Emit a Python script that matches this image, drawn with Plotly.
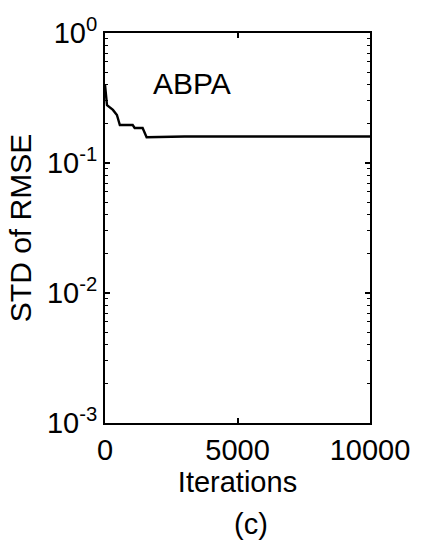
import plotly.graph_objects as go

iterations = [0, 75, 300, 450, 560, 1045, 1120, 1420, 1570, 3000, 10000]
std_rmse = [0.40, 0.279, 0.256, 0.234, 0.196, 0.196, 0.186, 0.186, 0.158, 0.160, 0.160]

y_tickvals = [1e-3, 1e-2, 1e-1, 1e0]
y_ticktext = ["10<sup>-3</sup>", "10<sup>-2</sup>", "10<sup>-1</sup>", "10<sup>0</sup>"]
x_tickvals = [0, 5000, 10000]
x_ticktext = ["0", "5000", "10000"]

minor_vals = [m * d for d in y_tickvals[:-1] for m in range(2, 10)]

FONT = "Liberation Sans, Arial, sans-serif"

fig = go.Figure()
fig.add_trace(go.Scatter(x=iterations, y=std_rmse, mode="lines",
                         line=dict(color="black", width=2.4), showlegend=False))

fig.update_layout(
    width=422, height=546,
    margin=dict(l=105, r=49, t=33, b=123),
    paper_bgcolor="white", plot_bgcolor="white",
    font=dict(family=FONT, size=29, color="black"),
    xaxis=dict(range=[0, 10000], tickvals=x_tickvals, ticktext=x_ticktext,
               showline=True, linecolor="black", linewidth=2, mirror="ticks",
               ticks="inside", ticklen=5, tickwidth=1.5, tickcolor="black",
               showgrid=False, zeroline=False,
               title=dict(text="Iterations", standoff=4, font=dict(size=29)),
               tickfont=dict(size=29)),
    yaxis=dict(type="log", range=[-3, 0], tickvals=y_tickvals, ticktext=y_ticktext,
               showline=True, linecolor="black", linewidth=2, mirror="ticks",
               ticks="inside", ticklen=5, tickwidth=1.5, tickcolor="black",
               showgrid=False, zeroline=False,
               minor=dict(tickmode="array", tickvals=minor_vals, ticks="inside",
                          ticklen=3, tickwidth=1, tickcolor="black", showgrid=False),
               title=dict(text="STD of RMSE", standoff=6, font=dict(size=30)),
               tickfont=dict(size=29)),
    annotations=[
        dict(text="ABPA", x=1750, y=-0.385, xref="x", yref="y",
             xanchor="left", yanchor="middle", showarrow=False,
             font=dict(size=30, family=FONT)),
        dict(text="(c)", x=0.55, y=-0.258, xref="paper", yref="paper",
             xanchor="center", yanchor="middle", showarrow=False,
             font=dict(size=29, family=FONT)),
    ],
)

fig.write_html("out.html")
